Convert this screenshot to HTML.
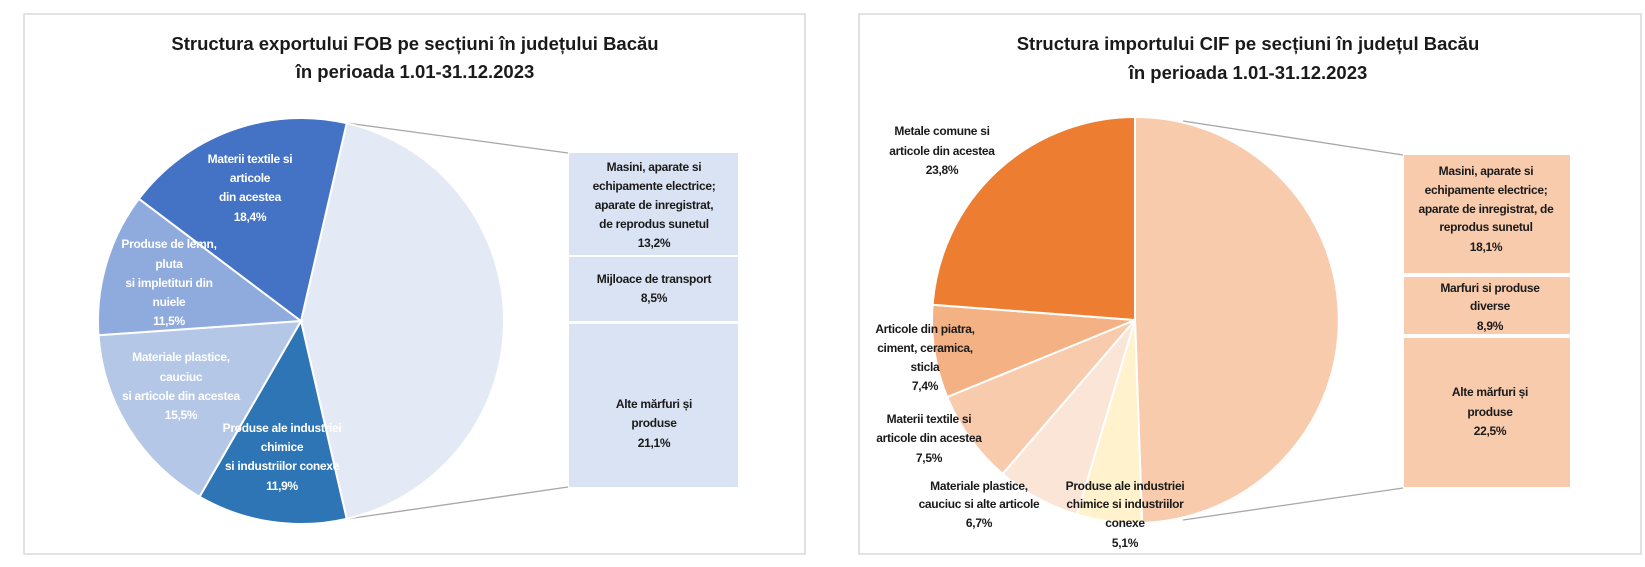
<!DOCTYPE html>
<html><head><meta charset="utf-8"><style>
html,body{margin:0;padding:0;background:#fff;}
svg{display:block}
text{font-family:"Liberation Sans",Arial,sans-serif;font-weight:bold;}
.t{font-size:18.5px;fill:#1a1a1a;}
.l{font-size:12px;letter-spacing:-0.3px;text-anchor:middle;}
.w{fill:#fff;}
.d{fill:#1a1a1a;}
</style></head><body>
<svg width="1645" height="567" viewBox="0 0 1645 567" xmlns="http://www.w3.org/2000/svg">
<rect x="24" y="14" width="781" height="540" fill="#fff" stroke="#d9d9d9" stroke-width="1.5"/>
<rect x="859" y="14" width="782" height="540" fill="#fff" stroke="#d9d9d9" stroke-width="1.5"/>

<!-- LEFT -->
<text class="t" x="415" y="50" text-anchor="middle">Structura exportului FOB pe secțiuni în județului Bacău</text>
<text class="t" x="415" y="78" text-anchor="middle">în perioada 1.01-31.12.2023</text>

<line x1="346.7" y1="123" x2="568" y2="153" stroke="#a6a6a6" stroke-width="1.3"/>
<line x1="346.7" y1="519" x2="568" y2="487" stroke="#a6a6a6" stroke-width="1.3"/>

<g stroke="#fff" stroke-width="2">
<path d="M301,321 L346.7,123.2 A203,203 0 0 1 346.7,518.8 Z" fill="#e4eaf5"/>
<path d="M301,321 L346.7,518.8 A203,203 0 0 1 199.5,496.8 Z" fill="#2e75b6"/>
<path d="M301,321 L199.5,496.8 A203,203 0 0 1 98.5,335.2 Z" fill="#b4c7e7"/>
<path d="M301,321 L98.5,335.2 A203,203 0 0 1 138.9,198.8 Z" fill="#8faadc"/>
<path d="M301,321 L138.9,198.8 A203,203 0 0 1 346.7,123.2 Z" fill="#4472c4"/>
</g>

<rect x="569" y="153" width="169" height="102" fill="#dae3f3"/>
<rect x="569" y="257" width="169" height="64" fill="#dae3f3"/>
<rect x="569" y="324" width="169" height="163" fill="#dae3f3"/>

<g class="l w">
<text x="250" y="163">Materii textile si</text>
<text x="250" y="182">articole</text>
<text x="250" y="201">din acestea</text>
<text x="250" y="221">18,4%</text>
<text x="169" y="248">Produse de lemn,</text>
<text x="169" y="268">pluta</text>
<text x="169" y="287">si impletituri din</text>
<text x="169" y="306">nuiele</text>
<text x="169" y="325">11,5%</text>
<text x="181" y="361">Materiale plastice,</text>
<text x="181" y="381">cauciuc</text>
<text x="181" y="400">si articole din acestea</text>
<text x="181" y="419">15,5%</text>
<text x="282" y="432">Produse ale industriei</text>
<text x="282" y="451">chimice</text>
<text x="282" y="470">si industriilor conexe</text>
<text x="282" y="490">11,9%</text>
</g>
<g class="l d">
<text x="654" y="171">Masini, aparate si</text>
<text x="654" y="190">echipamente electrice;</text>
<text x="654" y="209">aparate de inregistrat,</text>
<text x="654" y="228">de reprodus sunetul</text>
<text x="654" y="247">13,2%</text>
<text x="654" y="283">Mijloace de transport</text>
<text x="654" y="302">8,5%</text>
<text x="654" y="408">Alte mărfuri și</text>
<text x="654" y="427">produse</text>
<text x="654" y="447">21,1%</text>
</g>

<!-- RIGHT -->
<text class="t" x="1248" y="50" text-anchor="middle">Structura importului CIF pe secțiuni în județul Bacău</text>
<text class="t" x="1248" y="79" text-anchor="middle">în perioada 1.01-31.12.2023</text>

<line x1="1183" y1="121" x2="1403" y2="155" stroke="#a6a6a6" stroke-width="1.3"/>
<line x1="1183" y1="520" x2="1403" y2="488" stroke="#a6a6a6" stroke-width="1.3"/>

<g stroke="#fff" stroke-width="2">
<path d="M1135,320 L1135,117 A203,203 0 0 1 1142.1,522.9 Z" fill="#f8cbad"/>
<path d="M1135,320 L1142.1,522.9 A203,203 0 0 1 1077,514.5 Z" fill="#fff2cc"/>
<path d="M1135,320 L1077,514.5 A203,203 0 0 1 1002.6,473.9 Z" fill="#fbe5d6"/>
<path d="M1135,320 L1002.6,473.9 A203,203 0 0 1 947.2,397 Z" fill="#f8cbad"/>
<path d="M1135,320 L947.2,397 A203,203 0 0 1 932.6,304.8 Z" fill="#f4b183"/>
<path d="M1135,320 L932.6,304.8 A203,203 0 0 1 1135,117 Z" fill="#ed7d31"/>
</g>

<rect x="1404" y="155" width="166" height="118" fill="#f8cbad"/>
<rect x="1404" y="277" width="166" height="57" fill="#f8cbad"/>
<rect x="1404" y="338" width="166" height="149" fill="#f8cbad"/>

<g class="l d">
<text x="942" y="135">Metale comune si</text>
<text x="942" y="155">articole din acestea</text>
<text x="942" y="174">23,8%</text>
<text x="925" y="333">Articole din piatra,</text>
<text x="925" y="352">ciment, ceramica,</text>
<text x="925" y="371">sticla</text>
<text x="925" y="390">7,4%</text>
<text x="929" y="423">Materii textile si</text>
<text x="929" y="442">articole din acestea</text>
<text x="929" y="462">7,5%</text>
<text x="979" y="490">Materiale plastice,</text>
<text x="979" y="508">cauciuc si alte articole</text>
<text x="979" y="527">6,7%</text>
<text x="1125" y="490">Produse ale industriei</text>
<text x="1125" y="508">chimice si industriilor</text>
<text x="1125" y="527">conexe</text>
<text x="1125" y="547">5,1%</text>
<text x="1486" y="175">Masini, aparate si</text>
<text x="1486" y="194">echipamente electrice;</text>
<text x="1486" y="213">aparate de inregistrat, de</text>
<text x="1486" y="231">reprodus sunetul</text>
<text x="1486" y="251">18,1%</text>
<text x="1490" y="292">Marfuri si produse</text>
<text x="1490" y="310">diverse</text>
<text x="1490" y="330">8,9%</text>
<text x="1490" y="396">Alte mărfuri și</text>
<text x="1490" y="416">produse</text>
<text x="1490" y="435">22,5%</text>
</g>
</svg>
</body></html>
